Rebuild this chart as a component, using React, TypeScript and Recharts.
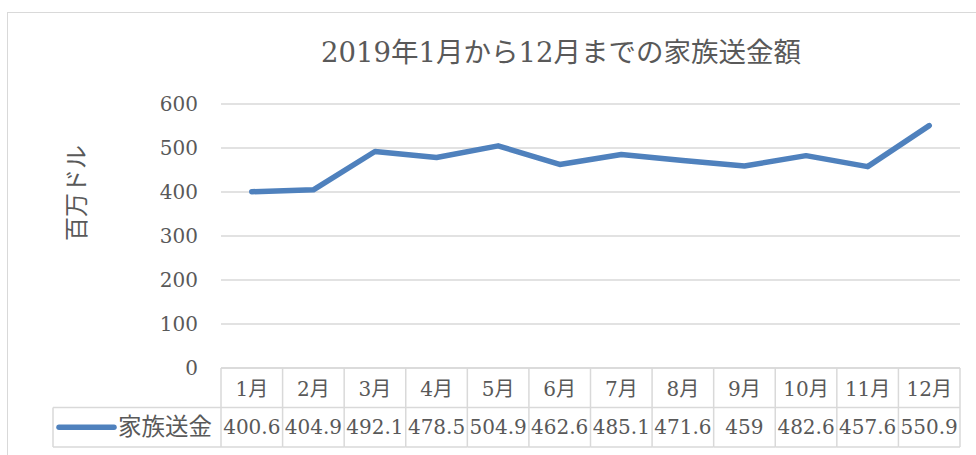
import React from 'react';
import { LineChart, Line, XAxis, YAxis, CartesianGrid } from 'recharts';

const months = ['1月', '2月', '3月', '4月', '5月', '6月', '7月', '8月', '9月', '10月', '11月', '12月'];
const remittance = [400.6, 404.9, 492.1, 478.5, 504.9, 462.6, 485.1, 471.6, 459, 482.6, 457.6, 550.9];
const yTicks = [0, 100, 200, 300, 400, 500, 600];
const seriesName = '家族送金';
const chartTitle = '2019年1月から12月までの家族送金額';
const yAxisTitle = '百万ドル';

const data = months.map((m, i) => ({ month: m, value: remittance[i] }));

const W = 976;
const H = 455;
const PLOT_LEFT = 221;
const PLOT_RIGHT = 960;
const PLOT_TOP = 104;
const PLOT_BOTTOM = 368;
const CELL_W = (PLOT_RIGHT - PLOT_LEFT) / months.length;
const ROW_H = 39.5;
const LEGEND_LEFT = 53;
const LINE_COLOR = '#4F81BD';
const GRID = '#D9D9D9';
const TEXT = '#595959';
const FONT = "'DejaVu Serif', 'Noto Sans CJK JP', serif";

const TableTick = (props: any) => {
  const { x, y, payload } = props;
  const i = payload?.index ?? props.index ?? 0;
  const left = x - CELL_W / 2;
  const right = x + CELL_W / 2;
  const r1 = y;
  const r2 = y + ROW_H;
  const r3 = y + 2 * ROW_H;
  const ls = { stroke: GRID, strokeWidth: 1.5 };
  return (
    <g>
      {i === 0 && <line x1={left} y1={r1} x2={left} y2={r3} {...ls} />}
      <line x1={right} y1={r1} x2={right} y2={r3} {...ls} />
      <line x1={left} y1={r2} x2={right} y2={r2} {...ls} />
      <line x1={left} y1={r3} x2={right} y2={r3} {...ls} />
      <text x={x} y={(r1 + r2) / 2 + 1} textAnchor="middle" dominantBaseline="central" fill={TEXT} fontSize={20} fontFamily={FONT}>
        {payload.value}
      </text>
      <text x={x} y={(r2 + r3) / 2} textAnchor="middle" dominantBaseline="central" fill={TEXT} fontSize={20} fontFamily={FONT}>
        {String(remittance[i])}
      </text>
      {i === 0 && (
        <g>
          <line x1={LEGEND_LEFT} y1={r2} x2={left} y2={r2} {...ls} />
          <line x1={LEGEND_LEFT} y1={r3} x2={left} y2={r3} {...ls} />
          <line x1={LEGEND_LEFT} y1={r2} x2={LEGEND_LEFT} y2={r3} {...ls} />
          <line x1={LEGEND_LEFT + 6} y1={(r2 + r3) / 2} x2={LEGEND_LEFT + 61} y2={(r2 + r3) / 2} stroke={LINE_COLOR} strokeWidth={5.5} strokeLinecap="round" />
          <text x={LEGEND_LEFT + 65} y={(r2 + r3) / 2} dominantBaseline="central" fill={TEXT} fontSize={23.5} fontFamily={FONT}>
            {seriesName}
          </text>
        </g>
      )}
    </g>
  );
};

const YLabel = () => (
  <text
    x={77}
    y={193}
    transform="rotate(-90, 77, 193)"
    textAnchor="middle"
    dominantBaseline="central"
    fill={TEXT}
    fontSize={24}
    fontFamily={FONT}
  >
    {yAxisTitle}
  </text>
);

export default function App() {
  return (
    <div style={{ position: 'absolute', left: 0, top: 0, width: W, height: H, overflow: 'hidden', background: '#fff' }}>
      <div
        style={{
          position: 'absolute',
          left: 7,
          top: 12,
          width: 1100,
          height: 600,
          border: `1.5px solid ${GRID}`,
          boxSizing: 'border-box',
        }}
      />
      <div
        style={{
          position: 'absolute',
          left: 561,
          top: 37,
          transform: 'translateX(-50%)',
          whiteSpace: 'nowrap',
          fontFamily: FONT,
          fontSize: 27.5,
          lineHeight: '30px',
          color: TEXT,
        }}
      >
        {chartTitle}
      </div>
      <div style={{ position: 'absolute', left: 0, top: 0 }}>
        <LineChart
          width={W}
          height={H}
          data={data}
          margin={{ top: PLOT_TOP, right: W - PLOT_RIGHT, bottom: 0, left: 0 }}
        >
          <CartesianGrid vertical={false} stroke={GRID} strokeWidth={1.5} />
          <XAxis
            dataKey="month"
            height={H - PLOT_BOTTOM}
            padding={{ left: CELL_W / 2, right: CELL_W / 2 }}
            interval={0}
            tickLine={false}
            tickSize={0}
            tickMargin={0}
            axisLine={{ stroke: GRID, strokeWidth: 1.5 }}
            tick={<TableTick />}
          />
          <YAxis
            width={PLOT_LEFT}
            domain={[0, 600]}
            ticks={yTicks}
            interval={0}
            axisLine={false}
            tickLine={false}
            tickSize={0}
            tickMargin={23}
            tick={{ fill: TEXT, fontSize: 20, fontFamily: FONT }}
            label={<YLabel />}
          />
          <Line
            type="linear"
            dataKey="value"
            name={seriesName}
            stroke={LINE_COLOR}
            strokeWidth={5.5}
            strokeLinecap="round"
            strokeLinejoin="round"
            dot={false}
            activeDot={false}
            isAnimationActive={false}
          />
        </LineChart>
      </div>
    </div>
  );
}
